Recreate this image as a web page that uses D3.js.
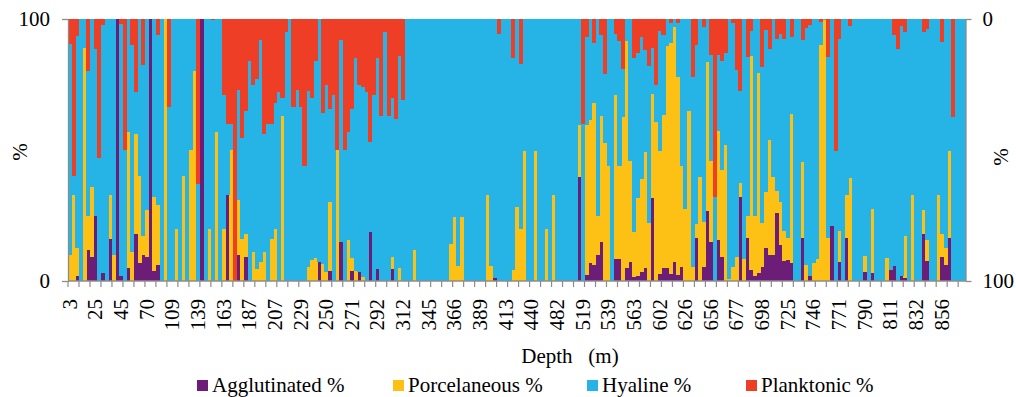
<!DOCTYPE html>
<meta charset="utf-8" />
<script src="https://d3js.org/d3.v7.min.js"></script>
<body style="margin:0;background:#fff">
<svg id="chart" width="1016" height="397"></svg>
<script>
/* DATA -------------------------------------------------------------------- */
const series=["Agglutinated %","Porcelaneous %","Hyaline %","Planktonic %"];
const colors=["#6b1d78","#fdc115","#26b4e6","#ef3e26"];
const tickLabels=["3","25","45","70","109","139","163","187","207","229","250","271","292","312",
  "345","366","389","413","440","482","519","539","563","602","626","656","677","698","725",
  "746","771","790","811","832","856"];
const labelEvery=7, tickEvery=3;

const agglutinated=[
 0,0,2,0,0,12,9,25,0,3, 0,16,0,100,2,0,5,0,18,7, 10,9,100,4,6,0,0,0,0,0,
 0,0,0,0,0,0,100,0,0,0, 0,0,0,33,0,0,10,0,9,0, 0,0,0,0,0,0,0,0,0,0,
 0,0,0,0,0,0,0,0,7.4,0, 0,4,0,0,15,0,0,4,0,3.6, 0,0,18.6,0,4.5,0,0,0,4.5,0,
 0,0,0,0,0,0,0,0,0,0, 0,0,0,0,0,0,0,0,0,0, 0,0,0,0,0,0,1.3,0,0,0,
 0,0,0,0,0,0,0,0,0,0, 0,0,0,0,0,0,0,0,0,39.8, 0,2.3,6.7,6,10,14.8,0,0,0,8.4,
 8.4,0,4.8,7.4,1.7,1.9,3.3,5,0,31.5, 0,2.5,4.8,4.8,2.5,7.4,2.3,5.5,0,0, 0,16.3,0,5.2,26.8,15,0,15.6,9.3,0,
 0,0,0,32,0,16.3,4.2,2,3,5.5, 12.5,10,10,26,13.7,7.8,8,7,0,0, 16.3,0,2,0,0,0,0,0,21,0,
 7.4,0,16.3,0,0,0,0,3.6,0,3.2, 0,0,0,0,4.2,5.7,0,2,1.3,0, 0,0,0,18,7.8,0,0,0,9,6,
 16.3,0,0,0,0];
const porcelaneous=[
 10,33,10.7,0,89,13,27,0,0,0, 0,17,10,0,0,0,52,11,38,33, 7,18,0,28,23,0,100,0,0,20,
 0,40,0,50,80,0,0,0,20,0, 57,0,20,0,50,0,21,16,9,0, 11,4.5,7.4,11,0,16,20,0,63,0,
 0,0,0,0,0,5.5,8,8.7,0,6.5, 3.6,26,0,50,0,0,15.6,4.7,3.8,0, 1.7,0,0,0,0,0,0,0,4.5,0,
 5,0,0,0,12,0,0,0,0,0, 0,0,0,0,14,24.5,5.7,24.5,0,0, 0,0,0,0,33,5.7,0,0,0,0,
 0,4.2,28.4,19.8,49.6,0,0,49.6,0,0, 19.8,0,33,0,0,0,0,0,0,19.7, 0,57.2,54.8,62,14.8,48.2,52.5,44,0,62.6,
 35.6,62.5,86.8,38.4,17.1,29.6,35.5,44.4,22,39.9, 60.5,47.2,58.6,84.9,88.5,89.4,75.4,38.5,27.5,65,
 5.5,5.5,39.6,17.2,56.7,30.8,0,41.8,33.1,51.9, 0.8,5.5,9.3,5.3,8.4,8.5,81.8,22.8,76.5,16.5,
 21.5,43.8,29.8,8.5,16.3,11.2,8.3,56.7,0,0, 29.2,6,0,7,8.3,90,99.5,16.3,0,0,
 11.6,0,16.7,39.2,0,0,0,5.9,0,24.2, 0,0,0,8.9,0,0,0,0,15.9,0, 33,0,0,9,7.8,0,0,33,9,6.5,
 33.3,0,0,0,0];
const hyaline=[
 80.5,7,80.8,100,11,55,64,63.5,47,94.7, 100,67,90,0,96,50,43,79,16,60, 65.5,73,0,68,65,100,0,66.5,100,80,
 100,60,100,50,20,37,0,100,80,99.5, 43,100,51,27,10,0,42,38.5,47,84, 64,72.5,84.6,45,60,44,48,72,7,95,
 100,66.5,73,66.5,44,67,62,75.3,92.6,57.5, 71.4,35.5,71,0,77,50,41.4,56.8,81.2,71.4, 72.3,72,34.4,71,80.5,63,95,63,61,62,
 81,69,100,100,88,100,100,100,100,100, 100,100,100,100,86,75.5,94.3,75.5,100,100, 100,100,100,100,67,94.3,98.7,94.3,100,100,
 100,80.8,71.6,63.2,50.4,100,100,50.4,100,100, 80.2,100,67,100,100,100,100,100,100,40.5, 60,33.8,38.5,23,75.2,31,26.5,56,100,23.3,
 47.6,18.5,8.4,54.2,66.4,55.5,54.5,38.8,60,17.6, 14.5,45.8,30.6,10.3,7.4,3.2,20.7,56,72.5,35,
 72.5,68.2,60.4,74.6,16.5,40.5,32,28.9,41.6,35.1, 99.2,93.1,71.2,35.2,91.6,60.7,9.5,75.2,20.5,59.6,
 61.8,34.7,60.2,57.7,64.3,73.4,83.7,29.3,100,100, 46.5,90.4,95.7,93,91.7,8.7,0.5,69.1,79,49.7,
 73.4,100,67,58.3,100,100,100,90.5,100,72.6, 100,100,100,91.1,95.8,88.3,88.5,95.5,77.8,100, 67,100,100,68.2,80.4,100,100,67,73.3,87.5,
 50.4,62.5,100,100,100];
const planktonic=[
 9.5,60,6.5,0,0,20,0,11.5,53,2.3, 0,0,0,0,2,50,0,10,28,0, 17.5,0,0,0,6,0,0,33.5,0,0,
 0,0,0,0,0,63,0,0,0,0.5, 0,0,29,40,40,100,27,45.5,35,16, 25,23,8,44,40,40,32,28,30,5,
 0,33.5,27,33.5,56,27.5,30,16,0,36, 25,34.5,29,50,8,50,43,34.5,15,25, 26,28,47,29,15,37,5,37,30,38,
 14,31,0,0,0,0,0,0,0,0, 0,0,0,0,0,0,0,0,0,0, 0,0,0,0,0,0,0,5.7,0,0,
 0,15,0,17,0,0,0,0,0,0, 0,0,0,0,0,0,0,0,0,0, 40,6.7,0,9,0,6,21,0,0,5.7,
 8.4,19,0,0,14.8,13,6.7,11.8,18,11, 25,4.5,6,0,1.6,0,1.6,0,0,0, 22,10,0,3,0,13.7,68,13.7,16,13,
 0,1.4,19.5,27.5,0,14.5,4.5,0,0,18.4, 4.2,11.5,0,7.8,5.7,7.6,0,7,0,0, 8,3.6,2.3,0,0,1.3,0,14.6,0,50.3,
 7.6,0,0,2.5,0,0,0,0,0,0, 0,0,0,0,0,6,11.5,2.5,5,0, 0,0,0,4.8,4,0,0,0,8.7,0,
 0,37.5,0,0,0];

/* LAYOUT ------------------------------------------------------------------ */
const L=68,R=965.5,T=19,B=281;
const font="Liberation Serif";
const fs=21;
const axisCol="#8c8c8c";

const rows=agglutinated.map((a,i)=>({i,
  [series[0]]:a,[series[1]]:porcelaneous[i],[series[2]]:hyaline[i],[series[3]]:planktonic[i]}));

const x=d3.scaleBand().domain(rows.map(d=>d.i)).range([L,R]).padding(0);
const y=d3.scaleLinear().domain([0,1]).range([B,T]);
const yL=d3.scaleLinear().domain([0,100]).range([B,T]);
const yR=d3.scaleLinear().domain([100,0]).range([B,T]);

const stacked=d3.stack().keys(series).offset(d3.stackOffsetExpand)(rows);

const svg=d3.select("#chart");

svg.append("g").selectAll("g").data(stacked).join("g")
   .attr("fill",(d,k)=>colors[k])
   .selectAll("rect").data(d=>d).join("rect")
     .attr("x",d=>x(d.data.i))
     .attr("width",x.bandwidth()+0.4)
     .attr("y",d=>y(d[1]))
     .attr("height",d=>Math.max(0,y(d[0])-y(d[1])))
     .attr("shape-rendering","crispEdges");

/* axes -------------------------------------------------------------------- */
function styleAxis(g){
  g.attr("font-family",font).attr("font-size",fs);
  g.selectAll("path,line").attr("stroke",axisCol).attr("stroke-width",1.3);
  g.selectAll("text").attr("fill","#000");
}
svg.append("g").attr("transform",`translate(${L},0)`)
   .call(d3.axisLeft(yL).tickValues([0,100]).tickSize(6).tickSizeOuter(0).tickPadding(12))
   .call(styleAxis);
svg.append("g").attr("transform",`translate(${R},0)`)
   .call(d3.axisRight(yR).tickValues([0,100]).tickSize(6).tickSizeOuter(0).tickPadding(11))
   .call(styleAxis);

// bottom axis: line, ticks between categories, labels every 7th sample
const xa=svg.append("g").attr("font-family",font).attr("font-size",fs);
xa.append("line").attr("x1",L).attr("x2",R).attr("y1",B).attr("y2",B)
  .attr("stroke",axisCol).attr("stroke-width",1.5);
const tickIdx=d3.range(0,rows.length,tickEvery);
xa.selectAll("line.tk").data(tickIdx).join("line").attr("class","tk")
  .attr("x1",i=>x(i)).attr("x2",i=>x(i)).attr("y1",B).attr("y2",B+6)
  .attr("stroke",axisCol).attr("stroke-width",1.2);
xa.selectAll("text").data(tickLabels).join("text")
  .attr("transform",(t,k)=>`translate(${x(k*labelEvery)+x.bandwidth()/2},299) rotate(-90)`)
  .attr("text-anchor","end").attr("dy","0.33em").text(t=>t);

/* titles ------------------------------------------------------------------ */
const tg=svg.append("g").attr("font-family",font).attr("font-size",fs);
tg.append("text").attr("transform","translate(20,152) rotate(-90)")
   .attr("text-anchor","middle").attr("dy","0.33em").text("%");
tg.append("text").attr("transform","translate(1001,157) rotate(-90)")
   .attr("text-anchor","middle").attr("dy","0.33em").text("%");
tg.append("text").attr("x",570).attr("y",363).attr("text-anchor","middle")
   .style("white-space","pre").text("Depth   (m)");

/* legend ------------------------------------------------------------------ */
const legX=[197,393,587,746];
const leg=svg.append("g").attr("font-family",font).attr("font-size",fs)
   .selectAll("g").data(series).join("g")
   .attr("transform",(d,k)=>`translate(${legX[k]},380)`);
leg.append("rect").attr("width",11).attr("height",11).attr("fill",(d,k)=>colors[k]);
leg.append("text").attr("x",15).attr("y",11.5).text(d=>d);
</script>
</body>
